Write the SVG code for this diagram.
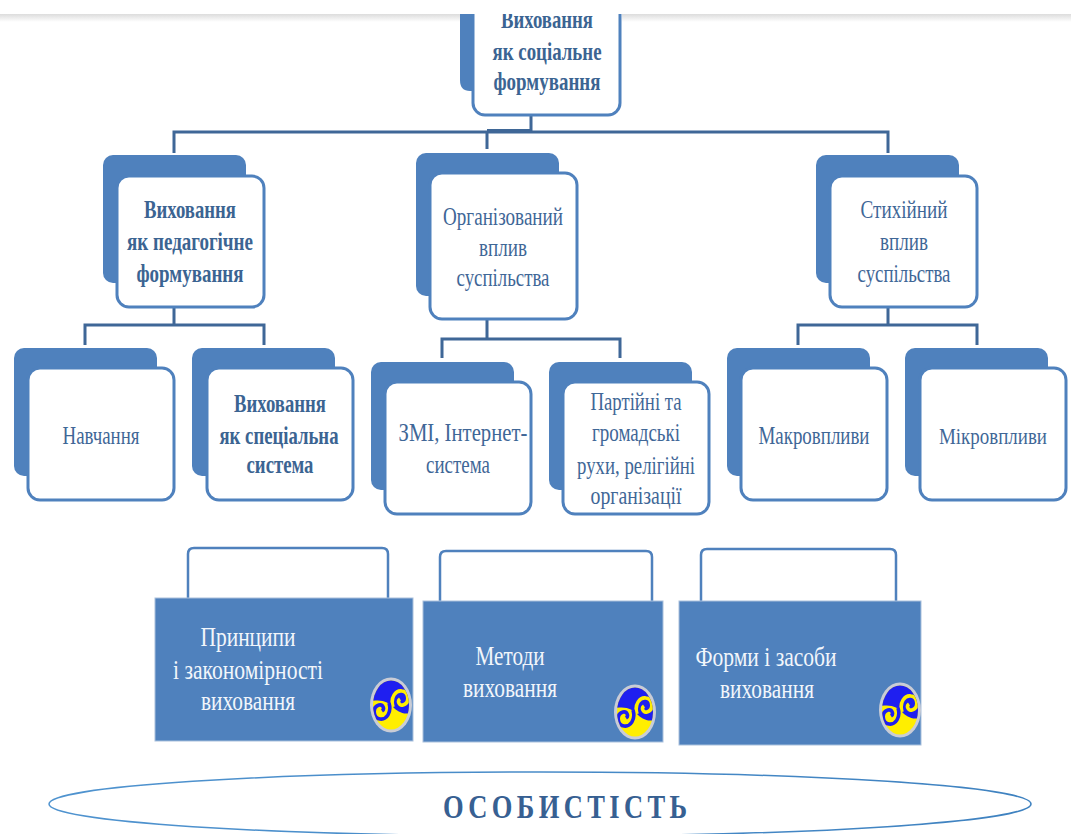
<svg xmlns="http://www.w3.org/2000/svg" width="1071" height="834" viewBox="0 0 1071 834">
<style>
.back{fill:#4f81bd}
.front{fill:#fff;stroke:#4f81bd;stroke-width:3}
.conn{fill:none;stroke:#3f6797;stroke-width:3}
.open{fill:none;stroke:#4f81bd;stroke-width:2.5}
.panel{fill:#4f81bd;stroke:#a9c0dc;stroke-width:1}
text{font-family:"Liberation Serif","Times New Roman",serif;text-anchor:middle}
.d{fill:#3f6797;font-size:26px}
.b{fill:#3b6492;font-size:26px;font-weight:bold}
.w{fill:#f2f6fb;font-size:28px}
</style>
<defs>
<linearGradient id="topShade" x1="0" y1="0" x2="0" y2="1"><stop offset="0" stop-color="#dcdcdc"/><stop offset="1" stop-color="#fff"/></linearGradient>
<linearGradient id="ring" x1="0" y1="0" x2="1" y2="0"><stop offset="0" stop-color="#4f93cf"/><stop offset="1" stop-color="#3f82c0"/></linearGradient>
<clipPath id="sw"><ellipse cx="0" cy="0" rx="18" ry="24.5"/></clipPath>
<g id="swirl">
<ellipse cx="0" cy="0" rx="21" ry="27.5" fill="#c9ccd6"/>
<g clip-path="url(#sw)">
<rect x="-19" y="-26" width="38" height="52" fill="#ffee00"/>
<path d="M-19 -26H19V8C12 10 6 6 2 2C-2 -2 -8 -6 -19 -4Z" fill="#1f1ff0"/>
<path d="M2 2C-1 -8 5 -15 11 -14C18 -13 19 -2 12 0C8 1 6 -4 9 -6" fill="none" stroke="#ffee00" stroke-width="3.6"/>
<path d="M-2 -2C1 8 -5 15 -11 14C-18 13 -19 2 -12 0C-8 -1 -6 4 -9 6" fill="none" stroke="#1f1ff0" stroke-width="3.6"/>
</g>
</g>
</defs>

<g id="connectors">
<path class="conn" d="M531 116V132M174 153V132H888V153M487 132V149"/>
<path class="conn" d="M487 130.500H531"/>
<path class="conn" d="M174 307V325M85 345V325H264V345"/>
<path class="conn" d="M487 319V339M442 358V339H620V358"/>
<path class="conn" d="M888 307V325M798 345V325H977V345"/>
</g>

<g id="node-root">
<path class="back" d="M460 14H474V91H470Q460 91 460 80Z"/>
<rect class="front" x="473" y="2" width="147" height="113" rx="12"/>
<text class="b" y="28" x="547" textLength="92" lengthAdjust="spacingAndGlyphs">Виховання</text>
<text class="b" y="60" x="547" textLength="109" lengthAdjust="spacingAndGlyphs">як соціальне</text>
<text class="b" y="90" x="547" textLength="107" lengthAdjust="spacingAndGlyphs">формування</text>
</g>
<g id="top-band">
<rect x="0" y="0" width="1071" height="14" fill="#fff"/>
<rect x="0" y="14" width="460" height="8" fill="url(#topShade)"/>
<rect x="622" y="14" width="449" height="8" fill="url(#topShade)"/>
</g>

<g id="node-pedagogical">
<rect class="back" x="103" y="155" width="143" height="128" rx="10"/>
<rect class="front" x="117" y="176" width="147" height="131" rx="12"/>
<text class="b" y="218" x="190" textLength="92" lengthAdjust="spacingAndGlyphs">Виховання</text>
<text class="b" y="250" x="190" textLength="126" lengthAdjust="spacingAndGlyphs">як педагогічне</text>
<text class="b" y="282" x="190" textLength="107" lengthAdjust="spacingAndGlyphs">формування</text>
</g>
<g id="node-organized">
<rect class="back" x="416" y="153" width="143" height="143" rx="10"/>
<rect class="front" x="430" y="173" width="147" height="146" rx="12"/>
<text class="d" y="225" x="503" textLength="120" lengthAdjust="spacingAndGlyphs">Організований</text>
<text class="d" y="256" x="503" textLength="48" lengthAdjust="spacingAndGlyphs">вплив</text>
<text class="d" y="286" x="503" textLength="93" lengthAdjust="spacingAndGlyphs">суспільства</text>
</g>
<g id="node-spontaneous">
<rect class="back" x="816" y="155" width="143" height="128" rx="10"/>
<rect class="front" x="830" y="176" width="147" height="131" rx="12"/>
<text class="d" y="218" x="904" textLength="87" lengthAdjust="spacingAndGlyphs">Стихійний</text>
<text class="d" y="250" x="904" textLength="48" lengthAdjust="spacingAndGlyphs">вплив</text>
<text class="d" y="282" x="904" textLength="93" lengthAdjust="spacingAndGlyphs">суспільства</text>
</g>

<g id="node-learning">
<rect class="back" x="14" y="348" width="143" height="128" rx="10"/>
<rect class="front" x="28" y="368" width="146" height="132" rx="12"/>
<text class="d" y="444" x="101" textLength="77" lengthAdjust="spacingAndGlyphs">Навчання</text>
</g>
<g id="node-special">
<rect class="back" x="192" y="348" width="143" height="128" rx="10"/>
<rect class="front" x="207" y="368" width="146" height="132" rx="12"/>
<text class="b" y="412" x="280" textLength="92" lengthAdjust="spacingAndGlyphs">Виховання</text>
<text class="b" y="444" x="279" textLength="119" lengthAdjust="spacingAndGlyphs">як спеціальна</text>
<text class="b" y="473" x="280" textLength="67" lengthAdjust="spacingAndGlyphs">система</text>
</g>
<g id="node-media">
<rect class="back" x="371" y="362" width="143" height="128" rx="10"/>
<rect class="front" x="385" y="382" width="146" height="132" rx="12"/>
<text class="d" y="441" x="463" textLength="129" lengthAdjust="spacingAndGlyphs">ЗМІ, Інтернет-</text>
<text class="d" y="473" x="458" textLength="64" lengthAdjust="spacingAndGlyphs">система</text>
</g>
<g id="node-parties">
<rect class="back" x="549" y="362" width="143" height="128" rx="10"/>
<rect class="front" x="563" y="382" width="146" height="132" rx="12"/>
<text class="d" y="410" x="636" textLength="91" lengthAdjust="spacingAndGlyphs">Партійні та</text>
<text class="d" y="441" x="636" textLength="88" lengthAdjust="spacingAndGlyphs">громадські</text>
<text class="d" y="474" x="636" textLength="118" lengthAdjust="spacingAndGlyphs">рухи, релігійні</text>
<text class="d" y="504" x="636" textLength="91" lengthAdjust="spacingAndGlyphs">організації</text>
</g>
<g id="node-macro">
<rect class="back" x="727" y="348" width="143" height="128" rx="10"/>
<rect class="front" x="741" y="368" width="146" height="132" rx="12"/>
<text class="d" y="444" x="814" textLength="111" lengthAdjust="spacingAndGlyphs">Макровпливи</text>
</g>
<g id="node-micro">
<rect class="back" x="905" y="348" width="143" height="128" rx="10"/>
<rect class="front" x="920" y="368" width="146" height="132" rx="12"/>
<text class="d" y="444" x="993" textLength="108" lengthAdjust="spacingAndGlyphs" style="font-size:24px">Мікровпливи</text>
</g>

<g id="node-principles">
<path class="open" d="M188 598V554Q188 548 194 548H382Q388 548 388 554V598"/>
<rect class="panel" x="155" y="598" width="258" height="143"/>
<text class="w" y="646" x="248" textLength="95" lengthAdjust="spacingAndGlyphs">Принципи</text>
<text class="w" y="679" x="248" textLength="150" lengthAdjust="spacingAndGlyphs">і закономірності</text>
<text class="w" y="710" x="248" textLength="94" lengthAdjust="spacingAndGlyphs">виховання</text>
<use href="#swirl" x="391" y="705"/>
</g>
<g id="node-methods">
<path class="open" d="M440 601V557Q440 551 446 551H646Q652 551 652 557V601"/>
<rect class="panel" x="423" y="601" width="240" height="141"/>
<text class="w" y="665" x="510" textLength="69" lengthAdjust="spacingAndGlyphs">Методи</text>
<text class="w" y="697" x="510" textLength="94" lengthAdjust="spacingAndGlyphs">виховання</text>
<use href="#swirl" x="635" y="712"/>
</g>
<g id="node-forms">
<path class="open" d="M701 601V555Q701 549 707 549H890Q896 549 896 555V601"/>
<rect class="panel" x="679" y="601" width="242" height="144"/>
<text class="w" y="666" x="766" textLength="141" lengthAdjust="spacingAndGlyphs">Форми і засоби</text>
<text class="w" y="698" x="767" textLength="94" lengthAdjust="spacingAndGlyphs">виховання</text>
<use href="#swirl" x="900" y="710"/>
</g>

<g id="node-personality">
<ellipse cx="540" cy="804" rx="491" ry="32" fill="#fff" stroke="url(#ring)" stroke-width="1.5"/>
<text transform="translate(565 818) scale(.78 1)" font-size="34" font-weight="bold" fill="#376092" textLength="313" lengthAdjust="spacing">ОСОБИСТІСТЬ</text>
</g>
</svg>
